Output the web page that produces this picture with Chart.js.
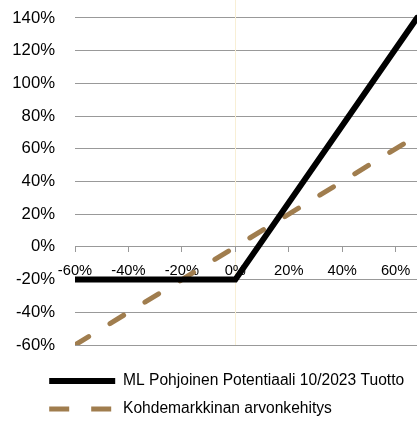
<!DOCTYPE html>
<html><head><meta charset="utf-8">
<script src="https://cdn.jsdelivr.net/npm/chart.js@4"></script>
<style>html,body{margin:0;padding:0;background:#fff}#wrap{width:417px;height:423px}</style>
</head><body><div id="wrap"><canvas id="c"></canvas></div>
<script>
const SERIES_NAMES = ['ML Pohjoinen Potentiaali 10/2023 Tuotto', 'Kohdemarkkinan arvonkehitys'];
const PRODUCT_X = [-60, 0, 68];
const PRODUCT_RETURN = [-20, -20, 140];
const UNDERLYING_X = [-60, 68];
const UNDERLYING_RETURN = [-60, 68];
const X_TICKS = [-60, -40, -20, 0, 20, 40, 60];
const Y_TICKS = [-60, -40, -20, 0, 20, 40, 60, 80, 100, 120, 140];

const FONT = "'Liberation Sans', Arial, sans-serif";
const pct = v => v + '%';
const toPoints = (xs, ys) => xs.map((x, i) => ({x: x, y: ys[i]}));

const legendPlacer = {
  id: 'legendPlacer',
  afterLayout(chart) {
    const lg = chart.legend;
    if (!lg) return;
    const dy = 360.8 - lg.top;
    lg.top += dy;
    lg.bottom += dy;
    lg.left = 36.8;
  }
};

new Chart(document.getElementById('c'), {
  type: 'line',
  data: {
    datasets: [
      {
        label: SERIES_NAMES[0],
        data: toPoints(PRODUCT_X, PRODUCT_RETURN),
        borderColor: '#000000',
        backgroundColor: '#000000',
        borderWidth: 6,
        borderCapStyle: 'round',
        borderJoinStyle: 'miter',
        pointRadius: 0,
        tension: 0,
        order: 1
      },
      {
        label: SERIES_NAMES[1],
        data: toPoints(UNDERLYING_X, UNDERLYING_RETURN),
        borderColor: '#a07d4e',
        backgroundColor: '#a07d4e',
        borderWidth: 5,
        borderDash: [16, 25],
        borderCapStyle: 'round',
        pointRadius: 0,
        tension: 0,
        order: 2
      }
    ]
  },
  plugins: [legendPlacer],
  options: {
    responsive: true,
    maintainAspectRatio: false,
    animation: false,
    layout: {padding: {left: 0, right: 0, top: 0, bottom: 12}},
    scales: {
      y: {
        type: 'linear',
        min: -60,
        max: 151,
        afterBuildTicks: s => { s.ticks = Y_TICKS.map(v => ({value: v})); },
        afterFit: s => { s.width = 75; s.paddingTop = 0; s.paddingBottom = 0; },
        ticks: {callback: pct, color: '#000', font: {family: FONT, size: 16.7}, padding: 20},
        grid: {color: '#999999', lineWidth: 1, drawTicks: false},
        border: {display: false}
      },
      x: {
        type: 'linear',
        position: {y: 0},
        min: -60,
        max: 68,
        afterBuildTicks: s => { s.ticks = X_TICKS.map(v => ({value: v})); },
        afterFit: s => { s.height = 12; s.paddingLeft = 0; s.paddingRight = 0; },
        ticks: {callback: pct, color: '#000', font: {family: FONT, size: 14.7}, padding: 10, maxRotation: 0, autoSkip: false},
        grid: {
          color: c => (c.tick && c.tick.value === 0) ? '#f8efd6' : 'rgba(0,0,0,0)',
          tickColor: '#999999',
          tickLength: 5,
          drawTicks: true,
          drawOnChartArea: true
        },
        border: {display: true, color: '#999999', width: 1}
      }
    },
    plugins: {
      tooltip: {enabled: false},
      legend: {
        position: 'bottom',
        align: 'start',
        labels: {
          usePointStyle: true,
          pointStyle: 'line',
          pointStyleWidth: 66,
          padding: 12.4,
          color: '#000',
          font: {family: FONT, size: 15.6},
          generateLabels: chart => {
            const items = Chart.defaults.plugins.legend.labels.generateLabels(chart);
            items.forEach(it => { it.pointStyle = 'line'; });
            if (items[1]) items[1].lineDash = [20, 22];
            return items;
          }
        }
      }
    }
  }
});
</script>
</body></html>
